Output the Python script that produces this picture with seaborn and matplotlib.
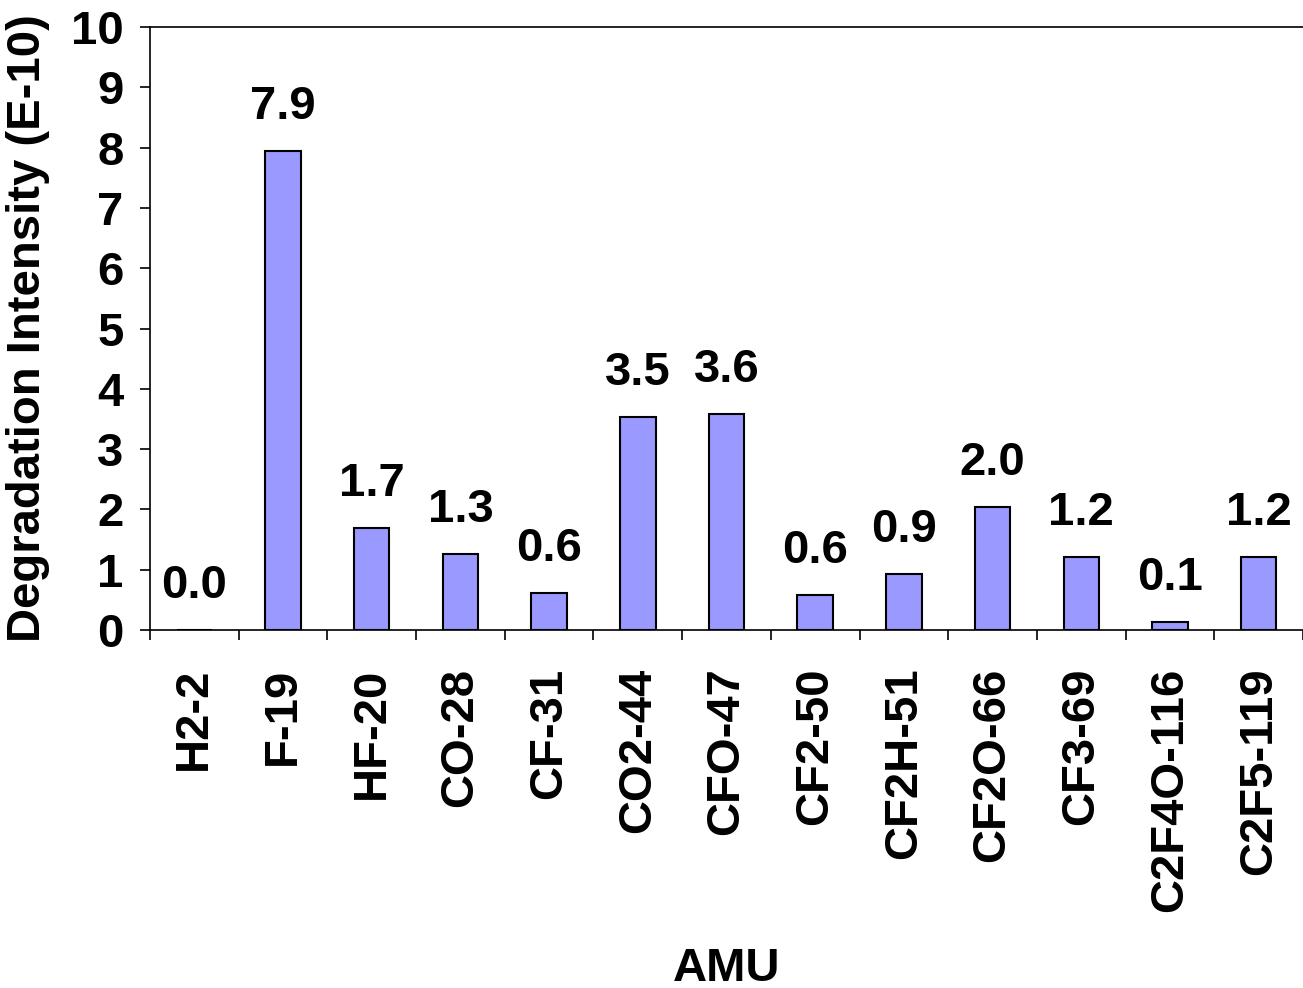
import pandas as pd
import seaborn as sns
import matplotlib.pyplot as plt

# 数据
categories = ['H2-2', 'F-19', 'HF-20', 'CO-28', 'CF-31', 'CO2-44', 'CFO-47',
              'CF2-50', 'CF2H-51', 'CF2O-66', 'CF3-69', 'C2F4O-116', 'C2F5-119']
values = [0.0, 7.94, 1.69, 1.26, 0.61, 3.53, 3.58, 0.58, 0.93, 2.04, 1.21, 0.13, 1.21]
yticks = list(range(0, 11))

data = pd.DataFrame({'AMU': categories, 'intensity': values})

sns.set_style('white')
plt.rcParams['font.family'] = ['Liberation Sans', 'DejaVu Sans']
plt.rcParams['font.weight'] = 'bold'
plt.rcParams['text.color'] = 'black'
plt.rcParams['axes.labelcolor'] = 'black'
plt.rcParams['xtick.color'] = 'black'
plt.rcParams['ytick.color'] = 'black'

fig = plt.figure(figsize=(13.03, 9.88), dpi=100)
ax = fig.add_axes([150 / 1303, 1 - 630 / 988, 1153 / 1303, 603 / 988])

sns.barplot(data=data, x='AMU', y='intensity', color='#9999FF', saturation=1,
            edgecolor='black', linewidth=1.5, width=0.4, ax=ax)

ax.bar_label(ax.containers[0], fmt='%.1f', padding=16, fontsize=34, fontweight='bold')

ax.set_ylim(0, 10)
ax.set_xlim(-0.5, len(categories) - 0.5)
ax.set_yticks(yticks)
ax.tick_params(axis='y', direction='out', length=7, width=1.2, color='black',
               labelsize=34, pad=12, left=True)
ax.tick_params(axis='x', which='major', length=0, labelsize=34, pad=27, rotation=90)
ax.set_xticks([i - 0.5 for i in range(len(categories) + 1)], minor=True)
ax.tick_params(axis='x', which='minor', direction='out', length=7, width=1.2,
               color='black', bottom=True)
for lbl in ax.get_xticklabels() + ax.get_yticklabels():
    lbl.set_fontweight('bold')

for side in ['left', 'bottom', 'top']:
    ax.spines[side].set_color('black')
    ax.spines[side].set_linewidth(1.2)
ax.spines['right'].set_visible(False)

ax.set_xlabel('AMU', fontsize=34, fontweight='bold')
ax.set_ylabel('Degradation Intensity (E-10)', fontsize=34, fontweight='bold')
ax.xaxis.set_label_coords(0.5, -0.525)
ax.yaxis.set_label_coords(-0.087, 0.5)

plt.savefig('out.png', dpi=100)
